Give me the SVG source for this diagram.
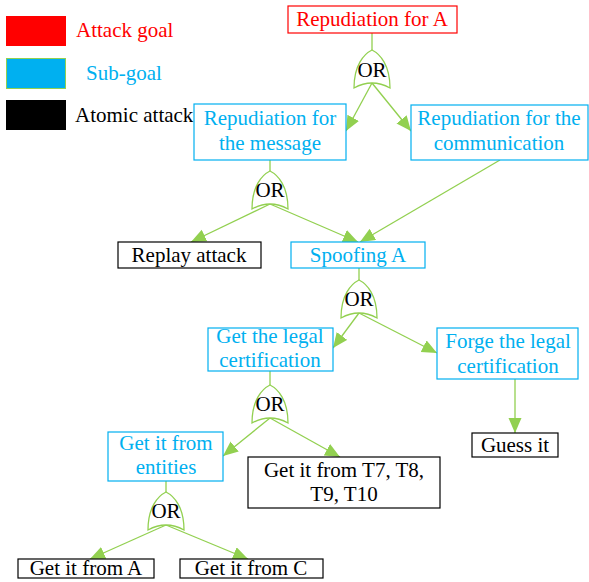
<svg xmlns="http://www.w3.org/2000/svg" width="589" height="582" viewBox="0 0 589 582">
  <defs>
    <marker id="arrow" markerUnits="userSpaceOnUse" markerWidth="16" markerHeight="14" refX="15" refY="6.5" orient="auto">
      <path d="M0,0 L15,6.5 L0,13 Z" fill="#92D050"/>
    </marker>
    <style>
      text { font-family: "Liberation Serif", "Times New Roman", serif; font-size: 21px; text-anchor: middle; }
      .goal rect { fill: #fff; stroke: #FF0000; stroke-width: 1.2; }
      .goal text { fill: #FF0000; }
      .sub rect { fill: #fff; stroke: #00B0F0; stroke-width: 1.2; }
      .sub text { fill: #00B0F0; }
      .atom rect { fill: #fff; stroke: #000; stroke-width: 1.2; }
      .atom text { fill: #000; }
      .gate path { fill: #fff; stroke: #92D050; stroke-width: 1.3; }
      .gate text { fill: #000; }
      .edge { stroke: #92D050; stroke-width: 1.3; fill: none; }
      .arr { marker-end: url(#arrow); }
      .legend text { text-anchor: start; }
    </style>
  </defs>

  <!-- legend -->
  <g id="legend" class="legend">
    <rect x="6" y="16" width="60" height="30" fill="#FF0000"/>
    <text x="76" y="37" fill="#FF0000">Attack goal</text>
    <rect x="6.5" y="58.5" width="59" height="30" fill="#00B0F0" stroke="#92D050" stroke-width="1"/>
    <text x="86" y="80" fill="#00B0F0">Sub-goal</text>
    <rect x="6" y="100" width="60" height="30" fill="#000"/>
    <text x="75" y="122" fill="#000">Atomic attack</text>
  </g>

  <!-- connectors -->
  <g id="connectors">
    <line class="edge" x1="372" y1="33" x2="372" y2="50"/>
    <line class="edge arr" x1="372" y1="83" x2="346" y2="131"/>
    <line class="edge arr" x1="372" y1="83" x2="411" y2="131"/>

    <line class="edge" x1="270" y1="160" x2="270" y2="171"/>
    <line class="edge arr" x1="270" y1="204" x2="191" y2="242"/>
    <line class="edge arr" x1="270" y1="204" x2="358" y2="242"/>
    <line class="edge arr" x1="500" y1="160" x2="360" y2="242"/>

    <line class="edge" x1="359" y1="268" x2="359" y2="280"/>
    <line class="edge arr" x1="359" y1="313" x2="333" y2="348"/>
    <line class="edge arr" x1="359" y1="313" x2="437" y2="353"/>
    <line class="edge arr" x1="515" y1="379" x2="515" y2="433"/>

    <line class="edge" x1="270" y1="371" x2="270" y2="385"/>
    <line class="edge arr" x1="270" y1="418" x2="223" y2="456"/>
    <line class="edge arr" x1="270" y1="418" x2="340" y2="457"/>

    <line class="edge" x1="166" y1="481" x2="166" y2="492"/>
    <line class="edge arr" x1="166" y1="525" x2="90" y2="559"/>
    <line class="edge arr" x1="166" y1="525" x2="248" y2="559"/>
  </g>

  <!-- OR gates -->
  <g id="gate1" class="gate" transform="translate(372,50)">
    <path d="M-18,38 C-18,15 -8,4 0,0 C8,4 18,15 18,38 Q0,28 -18,38 Z"/>
    <text x="0" y="27">OR</text>
  </g>
  <g id="gate2" class="gate" transform="translate(270,171)">
    <path d="M-18,38 C-18,15 -8,4 0,0 C8,4 18,15 18,38 Q0,28 -18,38 Z"/>
    <text x="0" y="26">OR</text>
  </g>
  <g id="gate3" class="gate" transform="translate(359,280)">
    <path d="M-18,38 C-18,15 -8,4 0,0 C8,4 18,15 18,38 Q0,28 -18,38 Z"/>
    <text x="0" y="26">OR</text>
  </g>
  <g id="gate4" class="gate" transform="translate(270,385)">
    <path d="M-18,38 C-18,15 -8,4 0,0 C8,4 18,15 18,38 Q0,28 -18,38 Z"/>
    <text x="0" y="26">OR</text>
  </g>
  <g id="gate5" class="gate" transform="translate(166,492)">
    <path d="M-18,38 C-18,15 -8,4 0,0 C8,4 18,15 18,38 Q0,28 -18,38 Z"/>
    <text x="0" y="26">OR</text>
  </g>

  <!-- nodes -->
  <g id="repudiation-a" class="goal">
    <rect x="288" y="6" width="169" height="27"/>
    <text x="372" y="26">Repudiation for A</text>
  </g>
  <g id="repudiation-message" class="sub">
    <rect x="194" y="104" width="152" height="56"/>
    <text x="270" y="125">Repudiation for</text>
    <text x="270" y="150">the message</text>
  </g>
  <g id="repudiation-communication" class="sub">
    <rect x="411" y="105" width="177" height="55"/>
    <text x="499" y="125">Repudiation for the</text>
    <text x="499" y="150">communication</text>
  </g>
  <g id="replay-attack" class="atom">
    <rect x="118" y="242" width="143" height="26"/>
    <text x="189" y="262">Replay attack</text>
  </g>
  <g id="spoofing-a" class="sub">
    <rect x="291" y="242" width="134" height="26"/>
    <text x="358" y="262">Spoofing A</text>
  </g>
  <g id="get-legal-cert" class="sub">
    <rect x="208" y="328" width="125" height="43"/>
    <text x="270" y="343">Get the legal</text>
    <text x="270" y="367">certification</text>
  </g>
  <g id="forge-legal-cert" class="sub">
    <rect x="437" y="328" width="141" height="51"/>
    <text x="508" y="348">Forge the legal</text>
    <text x="508" y="373">certification</text>
  </g>
  <g id="guess-it" class="atom">
    <rect x="472" y="433" width="86" height="24"/>
    <text x="515" y="452">Guess it</text>
  </g>
  <g id="get-from-entities" class="sub">
    <rect x="108" y="432" width="115" height="49"/>
    <text x="166" y="450">Get it from</text>
    <text x="166" y="474">entities</text>
  </g>
  <g id="get-from-t7-t10" class="atom">
    <rect x="248" y="457" width="192" height="51"/>
    <text x="344" y="477">Get it from T7, T8,</text>
    <text x="344" y="501">T9, T10</text>
  </g>
  <g id="get-from-a" class="atom">
    <rect x="18" y="559" width="136" height="19"/>
    <text x="86" y="575">Get it from A</text>
  </g>
  <g id="get-from-c" class="atom">
    <rect x="180" y="559" width="143" height="19"/>
    <text x="251" y="575">Get it from C</text>
  </g>
</svg>
